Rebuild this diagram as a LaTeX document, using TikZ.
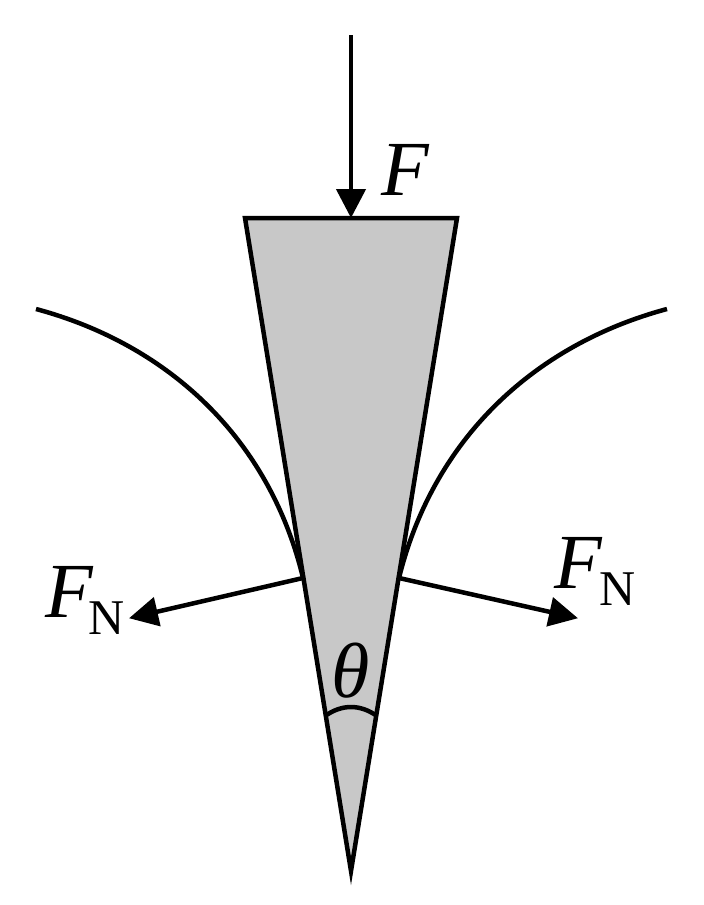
\documentclass[tikz,border=0pt]{standalone}
\usepackage{fontspec}
\setmainfont{Liberation Serif}
\usetikzlibrary{arrows.meta}
\definecolor{wedgegray}{RGB}{200,200,200}
\tikzset{
  ln/.style={line width=4.5pt,black},
  force/.style={ln,-{Triangle[length=29pt,width=29pt]},shorten >=-1pt},
  lab/.style={inner sep=0pt,font=\fontsize{78}{78}\selectfont\itshape},
  sub/.style={inner sep=0pt,font=\fontsize{50}{50}\selectfont}
}
\begin{document}
\begin{tikzpicture}[x=1pt,y=-1pt]
\useasboundingbox (0,0) rectangle (704,905);
\coordinate (tl) at (245,218);
\coordinate (tr) at (457,218);
\coordinate (tip) at (351,871);
\coordinate (ftop) at (351,35);
\coordinate (ftip) at (351,217);
\coordinate (cl) at (303,578);
\coordinate (cr) at (399,578);
\coordinate (nl) at (130,618);
\coordinate (nr) at (577,618);
\coordinate (sl) at (36,309);
\coordinate (sr) at (667,309);
\coordinate (al) at (325,716);
\coordinate (ar) at (377,716);
\draw[ln,fill=wedgegray,line join=miter,miter limit=20] (tl) -- (tr) -- (tip) -- cycle;
\draw[ln] (al) .. controls (342,704) and (360,704) .. (ar);
\draw[ln] (sl) .. controls (170,345) and (270,440) .. (cl);
\draw[ln] (sr) .. controls (533,345) and (433,440) .. (cr);
\draw[force] (ftop) -- (ftip);
\draw[force] (cl) -- (nl);
\draw[force] (cr) -- (nr);
\node[lab] (f) at (405,170) {F};
\node[lab] (fl) at (69,592) {F};
\node[sub] (nnl) at (107,618) {N};
\node[lab] (fr) at (578,563) {F};
\node[sub] (nnr) at (618,589) {N};
\node[lab] (th) at (351,671) {θ};
\end{tikzpicture}
\end{document}
